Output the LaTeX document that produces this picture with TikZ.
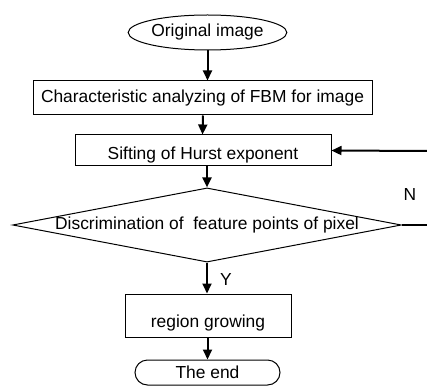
\documentclass[tikz,border=0pt]{standalone}
\usepackage{fontspec}
\setmainfont{Liberation Sans}
\usetikzlibrary{arrows.meta,positioning,shapes.geometric,shapes.misc}

\begin{document}
\begin{tikzpicture}[x=1pt,y=-1pt,
    font=\fontsize{17.4}{20}\selectfont,
    flow/.style={draw=black,line width=1pt,inner sep=0pt},
    stepbox/.style={flow,rectangle},
    link/.style={-{Triangle[length=10pt,width=9pt]},line width=2pt}]
  \useasboundingbox (0,0) rectangle (427,387);
  % nodes of the chart
  \node[flow,ellipse,minimum width=145pt,minimum height=35pt] (orig) at (207.5,32.5) {Original image};
  \node[stepbox,minimum width=339pt,minimum height=34pt] (fbm) at (202.5,98) {Characteristic analyzing of FBM for image};
  \node[stepbox,minimum width=256pt,minimum height=31pt,text height=23pt,text depth=4pt] (sift) at (203,150.5) {Sifting of Hurst exponent};
  \node[flow,diamond,aspect=5.24,minimum width=388pt,minimum height=74pt] (dis) at (207,225) {\raisebox{-6pt}{Discrimination of \ feature points of pixel}};
  \node[stepbox,minimum width=166pt,minimum height=43pt,text height=27pt,text depth=4pt] (grow) at (208,315.5) {region growing};
  \node[flow,rounded rectangle,minimum width=145pt,minimum height=25pt] (fin) at (207.5,372.5) {The end};
  % loop back at the right edge
  \coordinate (nr) at (427,225);
  \coordinate (nl) at (427,151);
  \node (n) at (410,195) {N};
  \node (y) at (226,280) {Y};
  % connectors
  \draw[link] (orig) -- (orig|-fbm.north);
  \draw[link] (fbm.south-|sift) -- (sift.north-|fbm.south);
  \draw[link] (sift.south-|dis) -- (dis.north);
  \draw[link] (dis.south) -- (dis.south|-grow.north);
  \draw[link] (grow.south-|fin) -- (fin.north);
  \draw[line width=1.2pt] (dis.east) -- (nr);
  \draw[link] (nl) -- (sift.east);
\end{tikzpicture}
\end{document}
